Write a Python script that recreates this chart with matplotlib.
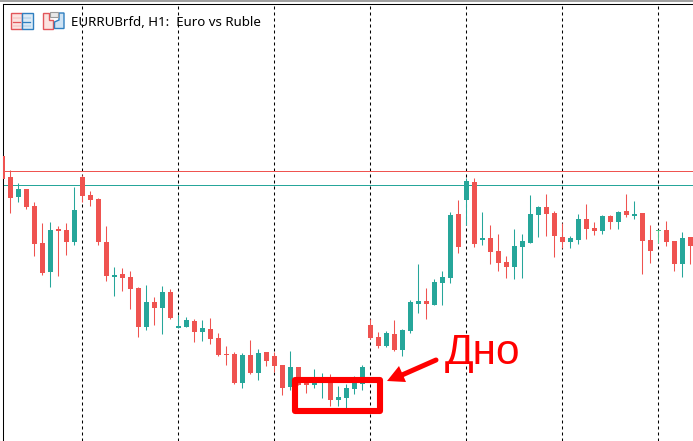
import matplotlib
matplotlib.use("Agg")
import matplotlib.pyplot as plt
from matplotlib.patches import Rectangle, Polygon

# Candle levels (no price axis shown: level = distance from the top)
direction = list("DDUDDDUDDUDDDDUDDDUDUD" "UUDUDDDDUDUDDDUDDUUDUUUU" "DDUDUUUDUUUDUDUDDDUUUUDD" "DUUDDUDUDUDDUDDUD")
wick_top = [156,170,183,189,202,223,222,226,223,187,175,191,198,226,267,268,271,287,285,297,286,289,
            315,317,319,320,318,333,346,352,353,340,349,352,352,365,351,367,380,369,373,374,386,384,376,365,
            319,332,331,320,329,300,264,288,279,271,212,200,178,178,212,225,234,256,229,234,195,206,194,211,
            223,236,214,204,222,215,215,211,194,201,213,225,230,221,241,232,237]
wick_bottom = [179,213,202,209,256,275,287,276,255,245,202,206,245,281,296,291,309,337,330,325,334,319,
               328,327,342,341,344,356,365,384,388,374,380,366,372,395,390,385,393,388,398,406,406,408,394,390,
               339,348,347,351,356,333,313,319,305,305,283,253,225,247,245,264,271,278,279,278,243,237,236,257,
               248,248,244,239,235,234,229,229,217,219,274,263,243,246,271,277,264]
body_top = [156,177,189,189,206,243,230,229,230,210,177,195,199,242,275,274,277,288,302,302,292,292,
            326,320,321,328,329,338,354,354,355,355,353,352,356,365,367,367,382,383,381,382,397,388,383,367,
            325,337,333,334,330,302,301,301,282,277,215,214,181,182,238,238,251,262,246,241,214,207,207,213,
            237,238,219,219,228,216,216,212,211,214,213,240,230,230,241,238,237]
body_bottom = [179,198,197,207,244,273,272,231,242,242,196,200,242,276,277,278,289,327,327,308,308,318,
               328,327,332,332,339,355,355,383,383,373,373,361,366,388,387,385,385,385,382,400,400,398,389,384,
               338,346,346,350,350,331,304,304,305,283,278,247,200,244,240,252,263,267,267,247,243,215,214,236,
               242,242,240,229,231,231,222,222,215,216,241,251,231,242,264,264,246]
vertical_separators = [10, 22, 34, 46, 58, 70, 82]
upper_level = 171
lower_level = 185

RED = "#ef5350"
GREEN = "#26a69a"

W, H = 693, 441
L = 2.5
fig = plt.figure(figsize=(W / 100, H / 100), dpi=100, facecolor="white")
ax = fig.add_axes([L / W, 0, (W - L) / W, (H - 3.5) / H])
ax.set_xlim((L - 2.0) / 8, (W - 2.0) / 8)
ax.set_ylim(H, 3.5)
ax.set_xticks([])
ax.set_yticks([])
for s in ("right", "bottom"):
    ax.spines[s].set_visible(False)
for s in ("left", "top"):
    ax.spines[s].set_linewidth(0.75)
    ax.spines[s].set_color("black")

for x in vertical_separators:
    ax.axvline(x, color="black", lw=0.75, ls=(0, (2.88, 2.88)), zorder=1)

ax.axhline(upper_level, color=RED, lw=0.72, zorder=2)
ax.axhline(lower_level, color=GREEN, lw=0.72, zorder=2)

xs = list(range(len(direction)))
colors = [GREEN if d == "U" else RED for d in direction]
colors[82] = "#4cc38a"
ax.vlines(xs, wick_top, wick_bottom, colors=colors, lw=0.75, zorder=3)
# bodies sit half a pixel to the right of the pixel-snapped wicks
bar_centres = [x + 0.5 / 8 for x in xs]
ax.bar(bar_centres, [b - t for t, b in zip(body_top, body_bottom)], bottom=body_top,
       width=5 / 8, color=colors, linewidth=0, zorder=3)

# Annotations, placed in picture pixels
def P(x, y):
    return (x / W, 1 - y / H)
trans = fig.transFigure
fig.add_artist(Rectangle(P(0, 2), 1, 2 / H, transform=trans, color="#a0a0a0", lw=0))

ann = Rectangle((295 / W, 1 - 411 / H), 85 / W, 31 / H, transform=trans, fill=False,
                edgecolor="#ff0000", linewidth=4.4, joinstyle="round", zorder=10)
fig.add_artist(ann)

fig.add_artist(plt.Line2D([436 / W, 402 / W], [1 - 360 / H, 1 - 375 / H], color="#ff0000",
                          lw=3.6, solid_capstyle="round", transform=trans, zorder=10))
fig.add_artist(Polygon([P(387, 381), P(399, 366), P(406, 382)], closed=True, transform=trans,
                       color="#ff0000", lw=0, zorder=10))

fig.text(445 / W, 1 - 364 / H, "Дно", color="#ff0000", fontsize=30.5,
         family="Liberation Sans", va="baseline", ha="left", zorder=11)

fig.text(71 / W, 1 - 26 / H, "EURRUBrfd, H1:  Euro vs Ruble", color="black", fontsize=9.55,
         family="Noto Sans", va="baseline", ha="left", zorder=11)

# Window toolbar icons
def box(x0, y0, x1, y1, fc, ec, lw=0.8):
    fig.add_artist(Rectangle((x0 / W, 1 - y1 / H), (x1 - x0) / W, (y1 - y0) / H, transform=trans,
                             facecolor=fc, edgecolor=ec, lw=lw, zorder=9))
box(10.5, 13, 21.5, 28.5, "#fbe3e0", "#e2565a", 1.0)
box(21.5, 13, 32.5, 28.5, "#dbeaf6", "#2f7fc0", 1.0)
for y in (18, 22.5, 26):
    box(13, y - 0.4, 21, y + 0.4, "#e2565a", "#e2565a", 0.2)
    box(23, y - 0.4, 31, y + 0.4, "#2f7fc0", "#2f7fc0", 0.2)
fig.add_artist(Polygon([P(43, 13), P(49, 13), P(49, 20), P(53, 20), P(53, 28.5), P(43, 28.5)],
                       closed=True, transform=trans, facecolor="#fbe3e0", edgecolor="#e2565a", lw=1.0, zorder=9))
fig.add_artist(Polygon([P(64, 13), P(59, 13), P(59, 20), P(54.5, 22), P(54.5, 28.5), P(64, 28.5)],
                       closed=True, transform=trans, facecolor="#cfe3f4", edgecolor="#2f7fc0", lw=1.0, zorder=9))
box(49.5, 12.5, 58, 17, "#e8e8e8", "#9a9a9a", 0.8)

fig.savefig("out.png", dpi=100)
